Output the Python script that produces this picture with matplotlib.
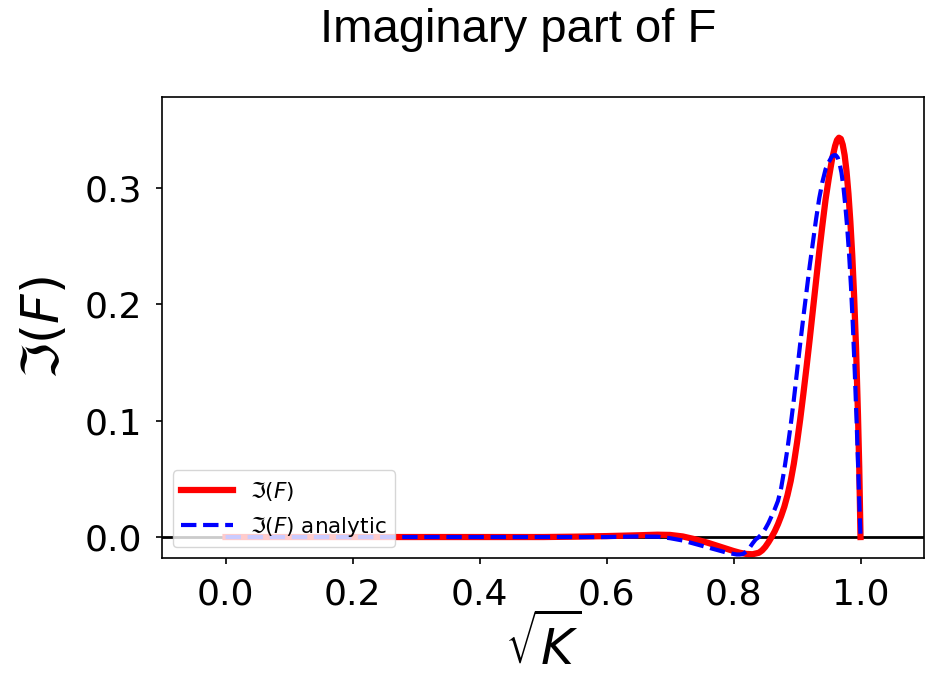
import matplotlib
matplotlib.use("Agg")
import matplotlib.pyplot as plt

x_red = [0.0, 0.1, 0.2, 0.3, 0.4, 0.5, 0.55, 0.6, 0.65, 0.68, 0.7, 0.72, 0.74, 0.76, 0.78,
         0.8, 0.81, 0.82, 0.83, 0.84, 0.845, 0.85, 0.855, 0.86, 0.865, 0.87, 0.875, 0.88,
         0.885, 0.89, 0.895, 0.90, 0.905, 0.91, 0.915, 0.92, 0.925, 0.93, 0.935, 0.94,
         0.945, 0.95, 0.955, 0.96, 0.963, 0.966, 0.969, 0.972, 0.975, 0.978, 0.981, 0.984,
         0.987, 0.99, 0.993, 0.996, 0.998, 1.0]
y_red = [0.0, 0.0, 0.0, 0.0, 0.0, 0.0, 0.0003, 0.0008, 0.0015, 0.002, 0.0018, 0.0005, -0.002,
         -0.005, -0.0085, -0.012, -0.0135, -0.0145, -0.0148, -0.0135, -0.0115, -0.0085,
         -0.0045, 0.0, 0.005, 0.011, 0.018, 0.026, 0.036, 0.048, 0.063, 0.081, 0.101, 0.123,
         0.146, 0.170, 0.195, 0.220, 0.245, 0.268, 0.290, 0.308, 0.324, 0.336, 0.341, 0.343,
         0.342, 0.337, 0.328, 0.314, 0.295, 0.271, 0.242, 0.206, 0.162, 0.105, 0.060, 0.0]

x_blue = [0.0, 0.1, 0.2, 0.3, 0.4, 0.5, 0.6, 0.65, 0.68, 0.7, 0.72, 0.74, 0.76, 0.78, 0.79,
          0.8, 0.805, 0.81, 0.815, 0.82, 0.825, 0.83, 0.835, 0.84, 0.845, 0.85, 0.855, 0.86,
          0.865, 0.87, 0.875, 0.88, 0.885, 0.89, 0.895, 0.90, 0.905, 0.91, 0.915, 0.92,
          0.925, 0.93, 0.935, 0.94, 0.945, 0.95, 0.955, 0.958, 0.961, 0.964, 0.967, 0.97,
          0.973, 0.976, 0.979, 0.982, 0.985, 0.988, 0.991, 0.994, 0.997, 1.0]
y_blue = [0.0, 0.0, 0.0, 0.0, 0.0, 0.0, 0.0, 0.0005, 0.0003, -0.001, -0.003, -0.006, -0.009,
          -0.012, -0.0135, -0.0145, -0.015, -0.015, -0.0145, -0.0125, -0.0095, -0.0055,
          -0.002, 0.0, 0.003, 0.007, 0.012, 0.018, 0.024, 0.031, 0.042, 0.058, 0.076, 0.096,
          0.118, 0.142, 0.166, 0.189, 0.211, 0.233, 0.253, 0.273, 0.291, 0.305, 0.316, 0.322,
          0.327, 0.328, 0.328, 0.326, 0.321, 0.313, 0.301, 0.285, 0.266, 0.243, 0.215,
          0.181, 0.141, 0.097, 0.048, 0.0]

x_ticks = [0.0, 0.2, 0.4, 0.6, 0.8, 1.0]
y_ticks = [0.0, 0.1, 0.2, 0.3]

fig = plt.figure(figsize=(9.28, 6.73), dpi=100)
ax = fig.add_axes([0.1746, 0.1709, 0.8211, 0.685])

ax.axhline(0, color="black", lw=2)
ax.plot(x_red, y_red, color="red", lw=4.5, label=r"$\Im(F)$")
ax.plot(x_blue, y_blue, color="blue", lw=3, ls="--", label=r"$\Im(F)$ analytic")

ax.set_xlim(-0.1, 1.1)
ax.set_ylim(-0.018, 0.378)
ax.set_xticks(x_ticks)
ax.set_yticks(y_ticks)
ax.tick_params(labelsize=26, width=1.2, length=4, pad=10)
for s in ax.spines.values():
    s.set_linewidth(1.2)

ax.set_xlabel(r"$\sqrt{K}$", fontsize=36)
ax.set_ylabel(r"$\Im(F)$", fontsize=37)
ax.xaxis.set_label_coords(0.5, -0.122)
ax.yaxis.set_label_coords(-0.121, 0.5)

ax.legend(loc="lower left", fontsize=15.5, handlelength=2.4, framealpha=0.8,
          bbox_to_anchor=(0.0, 0.0), borderaxespad=0.5)

fig.text(518 / 928, 1 - 30 / 673, "Imaginary part of F", fontsize=34,
         family="Liberation Sans", ha="center", va="center")

fig.savefig("out.png", dpi=100)
